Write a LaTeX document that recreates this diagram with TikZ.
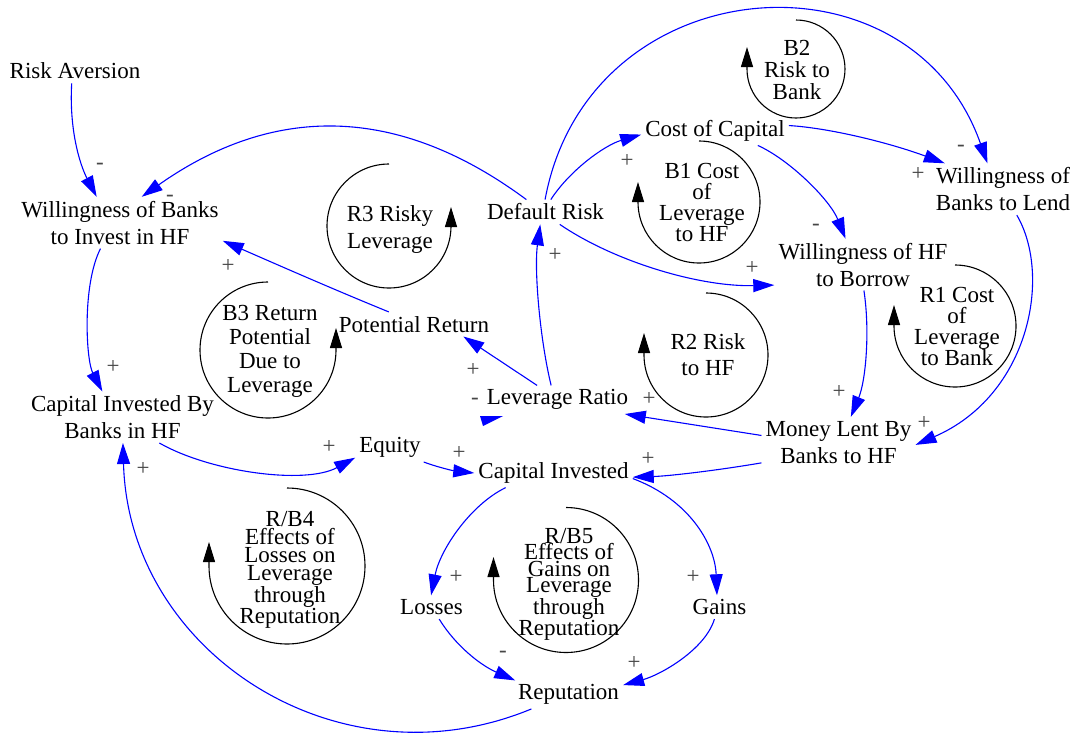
\documentclass[tikz,border=0pt]{standalone}
\usepackage{fontspec}
\setmainfont{Liberation Serif}
\usetikzlibrary{arrows.meta}
\definecolor{signgray}{RGB}{70,70,70}
\begin{document}
\begin{tikzpicture}[x=1pt,y=-1pt,
  var/.style={font=\fontsize{23}{27}\selectfont, align=center, inner sep=4pt},
  loopl/.style={font=\fontsize{23}{#1}\selectfont, align=center, inner sep=0pt},
  link/.style={draw=blue, line width=1.1pt, -{Triangle[length=21pt,width=13pt]}},
  loopc/.style={draw=black, line width=1.1pt, -{Triangle[length=20pt,width=12pt]}},
  sgn/.style={font=\fontsize{23}{27}\selectfont, text=signgray, inner sep=0pt},
]
\useasboundingbox (0,0) rectangle (1076,734);
\fill[white] (0,0) rectangle (1076,734);

% variables
\node[var] (ra)  at (75,71)      {Risk Aversion};
\node[var] (wbi) at (120,222.7)  {Willingness of Banks\\to Invest in HF};
\node[var] (dr)  at (545.5,212)  {Default Risk};
\node[var] (cc)  at (715,130.7)  {Cost of Capital};
\node[var] (wbl) at (1003,189.2) {Willingness of\\Banks to Lend};
\node[var] (wbh) at (863,264.6)  {Willingness of HF\\to Borrow};
\node[var] (ml)  at (838.5,442.2){Money Lent By\\Banks to HF};
\node[var] (lr)  at (557.5,399.7){Leverage Ratio};
\node[var] (pr)  at (414,324.2)  {Potential Return};
\node[var] (cib) at (122.5,417.2){Capital Invested By\\Banks in HF};
\node[var] (eq)  at (390,447.7)  {Equity};
\node[var] (ci)  at (553.5,473)  {Capital Invested};
\node[var] (lo)  at (431.5,607.2){Losses};
\node[var] (ga)  at (719.5,607.2){Gains};
\node[var] (re)  at (568.5,694.7){Reputation};

% loop labels
\node[loopl=22] (lB2) at (797,70)    {B2\\Risk to\\Bank};
\node[loopl=21] (lB1) at (702,202.5) {B1 Cost\\of\\Leverage\\to HF};
\node[loopl=27] (lR3) at (390,229)   {R3 Risky\\Leverage};
\node[loopl=24] (lB3) at (270,351.5) {B3 Return\\Potential\\Due to\\Leverage};
\node[loopl=26] (lR2) at (708,355)   {R2 Risk\\to HF};
\node[loopl=21] (lR1) at (957,326.5) {R1 Cost\\of\\Leverage\\to Bank};
\node[loopl=18] (lB4) at (290,570)   {R/B4\\Effects of\\Losses on\\Leverage\\through\\Reputation};
\node[loopl=16.5] (lB5) at (569,584.5) {R/B5\\Effects of\\Gains on\\Leverage\\through\\Reputation};

% loop circles
\draw[loopc] (796,20)    arc[start angle=-90, end angle=180, radius=49]   -- ++(0,-22);
\draw[loopc] (699,141)   arc[start angle=-90, end angle=180, radius=61]   -- ++(0,-20);
\draw[loopc] (389,164)   arc[start angle=270, end angle=0,   radius=62]   -- ++(0,-19);
\draw[loopc] (268,282)   arc[start angle=270, end angle=0,   radius=68]   -- ++(0,-22);
\draw[loopc] (706,293)   arc[start angle=-90, end angle=180, radius=62]   -- ++(0,-22);
\draw[loopc] (955,265)   arc[start angle=-90, end angle=180, radius=61]   -- ++(0,-21);
\draw[loopc] (287,488)   arc[start angle=-90, end angle=180, radius=78]   -- ++(0,-24);
\draw[loopc] (566,507.5) arc[start angle=-90, end angle=180, radius=72.5] -- ++(0,-23);

% connectors
\draw[link] (ra.255) .. controls (69,130) and (80,165) .. (wbi.132);
\draw[link] (dr.147) .. controls (396,103) and (272,105) .. (wbi.50);
\draw[link] (pr.154) .. controls (335,290) and (278,265) .. (wbi.-10);
\draw[link] (wbi.233) .. controls (82,285) and (86,360) .. (cib.128);
\draw[link] (cib.-35) .. controls (210,472) and (305,485) .. (eq.196);
\draw[link] (eq.-23) .. controls (440,468) and (455,471) .. (ci.180);
\draw[link] (ml.195) .. controls (720,470) and (670,476) .. (ci.-3);
\draw[link] (ml.175) -- (lr.-12);
\draw[link] (lr.145) -- (pr.-14);
\draw[link] (lr.114) .. controls (540,340) and (534,270) .. (dr.247);
\draw[link] (dr.67) .. controls (570,170) and (605,145) .. (cc.183);
\draw[link] (dr.92) .. controls (588,-33) and (909.5,-58) .. (wbl.121);
\draw[link] (cc.4) .. controls (830,128) and (890,143) .. (wbl.156);
\draw[link] (cc.-19) .. controls (790,160) and (830,200) .. (wbh.124);
\draw[link] (dr.-41) .. controls (615,262) and (700,287) .. (wbh.193);
\draw[link] (wbh.-88) .. controls (870,330) and (866,380) .. (ml.64);
\draw[link] (wbl.-62) .. controls (1052,275) and (1030,395) .. (ml.-2);
\draw[link] (ci.197) .. controls (470,505) and (440,550) .. (lo.92);
\draw[link] (ci.-4) .. controls (690,500) and (715,545) .. (ga.102);
\draw[link] (lo.-57) .. controls (455,645) and (480,665) .. (re.165);
\draw[link] (ga.-113) .. controls (705,650) and (660,675) .. (re.10);
\draw[link] (re.201) .. controls (338,789) and (128.7,652.3) .. (cib.-89);
% lone arrowhead next to Leverage Ratio
\fill[blue] (480,416) -- (503,416) -- (483,426) -- cycle;

% polarity signs
\node[sgn] (s1)  at (100,166) {-};
\node[sgn] (s2)  at (170,198) {-};
\node[sgn] (s3)  at (228,266) {+};
\node[sgn] (s4)  at (113,367) {+};
\node[sgn] (s5)  at (329,447) {+};
\node[sgn] (s6)  at (459,453) {+};
\node[sgn] (s7)  at (648,459) {+};
\node[sgn] (s8)  at (649,399) {+};
\node[sgn] (s9)  at (475,401) {-};
\node[sgn] (s10) at (473,370) {+};
\node[sgn] (s11) at (555,255) {+};
\node[sgn] (s12) at (627,161) {+};
\node[sgn] (s13) at (961,148) {-};
\node[sgn] (s14) at (918,174) {+};
\node[sgn] (s15) at (816,227) {-};
\node[sgn] (s16) at (752,268) {+};
\node[sgn] (s17) at (839,392) {+};
\node[sgn] (s18) at (924,423) {+};
\node[sgn] (s19) at (456,577) {+};
\node[sgn] (s20) at (693,577) {+};
\node[sgn] (s21) at (503,654) {-};
\node[sgn] (s22) at (634,663) {+};
\node[sgn] (s23) at (143,469) {+};
\end{tikzpicture}
\end{document}
